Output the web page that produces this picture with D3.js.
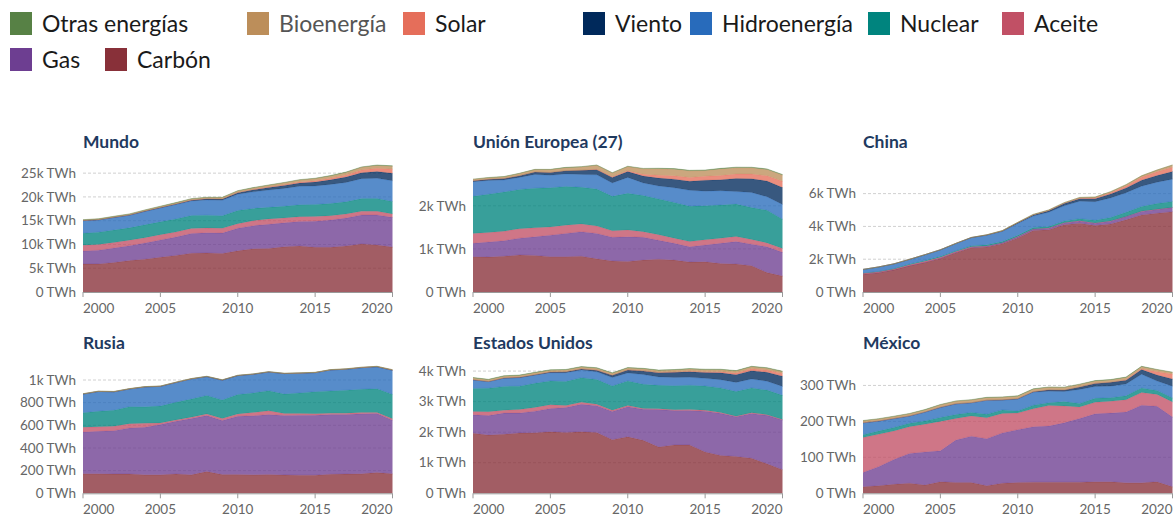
<!DOCTYPE html>
<html><head><meta charset="utf-8">
<script src="https://cdn.jsdelivr.net/npm/d3@7"></script>
<style>
body{margin:0;background:#fff;}
svg{display:block;font-family:Lato,"Open Sans",sans-serif;}
</style></head><body>
<svg id="chart" width="1176" height="518"></svg>
<script>
// ---------- DATA ----------
const years = [2000,2001,2002,2003,2004,2005,2006,2007,2008,2009,2010,2011,2012,2013,2014,2015,2016,2017,2018,2019,2020];
// stack order, bottom -> top
const sourceNames = ["Carbón","Gas","Aceite","Nuclear","Hidroenergía","Viento","Solar","Bioenergía","Otras energías"];
const countryNames = ["Mundo","Unión Europea (27)","China","Rusia","Estados Unidos","México"];

// Mundo (TWh)
const mundoCarbon = [5870,5900,6200,6600,6900,7300,7700,8150,8200,8100,8650,9100,9150,9500,9700,9400,9400,9700,10100,9900,9450];
const mundoGas    = [2750,2900,3050,3150,3400,3650,3850,4150,4250,4300,4750,4850,5100,5050,5150,5500,5750,5850,6100,6300,6250];
const mundoAceite = [1220,1200,1150,1150,1130,1100,1050,1080,1030,1000,970,1050,1120,1020,1000,1000,900,850,800,760,720];
const mundoNuclear= [2510,2590,2630,2590,2700,2710,2760,2700,2680,2640,2760,2580,2430,2460,2500,2520,2560,2580,2640,2720,2620];
const mundoHidro  = [2640,2580,2630,2640,2800,2910,3020,3070,3210,3240,3420,3480,3650,3760,3870,3870,4020,4060,4180,4230,4350];
const mundoViento = [31,38,52,63,85,104,133,171,220,277,342,437,524,635,706,831,957,1135,1265,1420,1590];
const mundoSolar  = [1,1,2,2,3,4,6,8,12,20,32,63,99,138,190,256,329,445,575,704,846];
const mundoBio    = [140,145,160,175,190,210,225,245,265,285,320,340,370,400,440,470,500,530,560,590,620];
const mundoOtras  = [52,53,55,57,60,61,62,64,66,68,70,72,73,75,77,80,82,84,86,88,90];

// Unión Europea (27)
const ueCarbon  = [820,810,830,860,850,820,820,830,770,720,710,740,760,740,695,700,660,650,610,450,370];
const ueGas     = [310,350,360,390,430,500,540,570,590,550,570,530,440,390,355,390,470,520,500,600,550];
const ueAceite  = [230,220,220,220,210,190,190,180,170,150,160,130,130,120,120,120,120,120,110,90,90];
const ueNuclear = [860,890,910,910,920,910,900,850,860,800,850,840,830,830,820,790,770,750,740,760,680];
const ueHidro   = [340,320,280,280,320,290,290,300,330,310,370,290,300,340,370,340,330,290,350,310,340];
const ueViento  = [20,25,33,40,55,65,75,95,120,130,135,160,185,200,210,255,255,305,320,365,395];
const ueSolar   = [0,0,0,1,1,1,2,4,7,14,22,44,66,77,88,94,97,105,108,124,144];
const ueBio     = [35,38,42,50,55,65,70,75,95,90,95,125,150,155,155,130,155,145,145,145,145];
const ueOtras   = [5,5,5,5,6,6,6,6,6,6,7,10,12,12,12,13,13,13,13,13,13];

// China
const chCarbon  = [1080,1180,1350,1600,1800,2050,2400,2700,2750,2950,3300,3750,3800,4100,4200,4050,4150,4400,4700,4800,4900];
const chGas     = [6,7,8,10,15,20,25,35,40,50,70,85,90,115,130,145,170,200,215,235,250];
const chAceite  = [50,45,45,50,55,50,40,30,20,10,10,8,6,6,10,10,10,10,10,10,10];
const chNuclear = [17,17,25,43,50,53,55,62,68,70,74,86,97,112,132,171,213,248,295,348,366];
const chHidro   = [222,277,288,284,354,398,436,486,585,616,722,699,872,920,1064,1130,1193,1194,1232,1302,1355];
const chViento  = [1,1,1,1,1,2,4,6,15,28,45,70,96,141,156,186,241,295,366,406,467];
const chSolar   = [0,0,0,0,0,0,0,0,0,0,1,3,6,15,29,45,75,118,177,225,261];
const chBio     = [3,3,3,3,3,4,8,11,14,21,25,32,35,40,46,53,65,81,91,112,136];
const chOtras   = [0,0,0,0,0,0,0,0,0,0,0,0,0,0,0,0,0,0,0,0,0];

// Rusia
const ruCarbon  = [172,172,170,170,163,163,170,163,192,165,165,163,165,162,160,160,168,170,172,183,172];
const ruGas     = [369,375,383,407,420,444,466,497,494,477,515,522,530,525,530,529,527,525,530,521,473];
const ruAceite  = [42,40,39,38,35,14,12,12,15,18,21,28,33,17,15,13,12,12,11,10,12];
const ruNuclear = [128,137,141,150,145,149,156,160,163,164,171,173,178,172,181,195,197,203,205,209,216];
const ruHidro   = [165,175,163,156,176,174,174,178,166,175,167,165,165,181,174,168,185,185,191,194,212];
const ruViento  = [0,0,0,0,0,0,0,0,0,0,0,0,0,0,0,0,0,0,0,0,1];
const ruSolar   = [0,0,0,0,0,0,0,0,0,0,0,0,0,0,0,0,0,1,1,1,2];
const ruBio     = [3,3,3,3,3,3,3,3,3,3,3,3,3,3,3,3,3,3,3,3,3];
const ruOtras   = [0,0,0,0,0,0,0,0,0,0,0,0,0,0,0,0,0,0,0,0,0];

// Estados Unidos
const usCarbon  = [1966,1904,1933,1974,1978,2013,1991,2016,1986,1756,1847,1733,1514,1581,1582,1352,1239,1206,1146,965,774];
const usGas     = [601,639,691,650,711,761,817,897,883,921,988,1014,1226,1125,1127,1335,1379,1297,1469,1586,1624];
const usAceite  = [111,125,95,119,121,122,64,66,46,39,37,30,23,27,30,28,24,21,25,18,17];
const usNuclear = [754,769,780,764,789,782,787,806,806,799,807,790,769,789,797,797,806,805,807,809,790];
const usHidro   = [276,217,264,276,268,270,289,248,254,273,260,319,276,269,259,249,268,300,292,287,291];
const usViento  = [6,7,10,11,14,18,27,35,55,74,95,120,141,168,182,191,227,254,273,296,338];
const usSolar   = [0.5,0.5,0.6,0.5,0.6,0.6,0.5,0.6,0.9,0.9,1.2,1.8,4.3,9,18,25,36,53,64,72,89];
const usBio     = [61,55,60,61,62,62,63,63,64,63,66,65,65,66,70,68,65,64,64,61,58];
const usOtras   = [14,14,14,14,14,15,15,15,15,15,15,16,16,16,16,16,16,16,16,16,17];

// México
const mxCarbon  = [18,21,25,28,23,32,30,30,21,28,30,31,31,31,31,32,32,29,29,32,18];
const mxGas     = [40,53,69,83,92,86,118,129,131,140,147,154,156,165,177,189,191,197,216,210,194];
const mxAceite  = [97,90,79,74,77,82,60,56,58,54,46,50,57,47,32,32,33,34,35,33,42];
const mxNuclear = [8,9,10,10,9,11,11,10,10,10,6,10,8,12,10,11,10,11,13,11,11];
const mxHidro   = [33,28,25,20,25,28,30,27,39,27,33,36,32,28,39,33,32,33,38,26,33];
const mxViento  = [0,0,0,0,0,0,0,0,0,1,1.2,1.6,3.7,4.2,6.4,8.7,10.5,10.6,13,17,20];
const mxSolar   = [0,0,0,0,0,0,0,0,0,0,0,0,0,0,0.2,0.2,0.4,1.2,2.2,9,13];
const mxBio     = [5.5,5.5,5.5,6,6,7,7,7.5,7,7,7,7,7,7,7,6.5,6.5,6.5,6,5.5,5];
const mxOtras   = [1,1,1,1,1,1,1,1,1,1,1,1,1,1,1,1,1,1,1,1,1];

const yTickValues = [
  [0,5000,10000,15000,20000,25000],
  [0,1000,2000],
  [0,2000,4000,6000],
  [0,200,400,600,800,1000],
  [0,1000,2000,3000,4000],
  [0,100,200,300]
];
const xTickValues = [2000,2005,2010,2015,2020];

// ---------- STYLE / LAYOUT ----------
const palette = ["#883039","#6D3E91","#C15065","#00847E","#286BBB","#00295B","#E56E5A","#BC8E5A","#578145"];
const countrySeries = [
  [mundoCarbon,mundoGas,mundoAceite,mundoNuclear,mundoHidro,mundoViento,mundoSolar,mundoBio,mundoOtras],
  [ueCarbon,ueGas,ueAceite,ueNuclear,ueHidro,ueViento,ueSolar,ueBio,ueOtras],
  [chCarbon,chGas,chAceite,chNuclear,chHidro,chViento,chSolar,chBio,chOtras],
  [ruCarbon,ruGas,ruAceite,ruNuclear,ruHidro,ruViento,ruSolar,ruBio,ruOtras],
  [usCarbon,usGas,usAceite,usNuclear,usHidro,usViento,usSolar,usBio,usOtras],
  [mxCarbon,mxGas,mxAceite,mxNuclear,mxHidro,mxViento,mxSolar,mxBio,mxOtras]
];

const svg = d3.select("#chart");

// Legend (top-first order)
const legendLayout = [
  {i:8,x:10,row:0},{i:7,x:247,row:0},{i:6,x:403,row:0},{i:5,x:583,row:0},
  {i:4,x:690,row:0},{i:3,x:868,row:0},{i:2,x:1002,row:0},
  {i:1,x:10,row:1},{i:0,x:105,row:1}
];
const lg = svg.append("g");
legendLayout.forEach(d=>{
  const yTop = d.row===0 ? 12 : 48;
  lg.append("rect").attr("x",d.x).attr("y",yTop).attr("width",22).attr("height",23)
    .attr("fill",palette[d.i]);
  lg.append("text").attr("x",d.x+32).attr("y",yTop+20)
    .attr("font-size",23).attr("fill", d.i===7 ? "#555" : "#1a1a1a")
    .text(sourceNames[d.i]);
});

const fmt = v => v===0 ? "0 TWh" : (v>=1000 ? (v/1000)+"k TWh" : v+" TWh");

countryNames.forEach((name,ci)=>{
  const col = ci%3, row = Math.floor(ci/3);
  const x0 = 83 + col*390, x1 = x0 + 309.5;
  const yB = 292 + row*201.3, yT = yB - 127;
  const series = countrySeries[ci];
  const rows = years.map((yr,j)=>{
    const o = {year:yr};
    series.forEach((s,k)=>o[k]=s[j]);
    return o;
  });
  const keys = d3.range(series.length);
  const stacked = d3.stack().keys(keys)(rows);
  const maxTotal = d3.max(stacked[stacked.length-1], d=>d[1]);
  const x = d3.scaleLinear().domain([years[0],years[years.length-1]]).range([x0,x1]);
  const y = d3.scaleLinear().domain([0,maxTotal]).range([yB,yT]);
  const g = svg.append("g");

  // title
  g.append("text").attr("x",x0).attr("y",yB-144).attr("font-size",17.5).attr("font-weight",700)
    .attr("fill","#1f3a5f").text(name);

  // gridlines
  yTickValues[ci].filter(t=>t>0).forEach(t=>{
    g.append("line").attr("x1",x0).attr("x2",x1).attr("y1",y(t)).attr("y2",y(t))
      .attr("stroke","#d0d0d0").attr("stroke-dasharray","3,2").attr("stroke-width",1);
  });

  // areas
  const area = d3.area().x(d=>x(d.data.year)).y0(d=>y(d[0])).y1(d=>y(d[1]));
  const line = d3.line().x(d=>x(d.data.year)).y(d=>y(d[1]));
  stacked.forEach((layer,k)=>{
    g.append("path").attr("d",area(layer)).attr("fill",palette[k]).attr("fill-opacity",0.78);
    g.append("path").attr("d",line(layer)).attr("fill","none").attr("stroke",palette[k])
      .attr("stroke-opacity",0.6).attr("stroke-width",0.6);
  });

  // y tick labels
  yTickValues[ci].forEach(t=>{
    g.append("text").attr("x",x0-7).attr("y",y(t)).attr("dy","0.35em").attr("text-anchor","end")
      .attr("font-size",13.5).attr("fill","#666").text(fmt(t));
  });

  // x axis
  g.append("line").attr("x1",x0).attr("x2",x1).attr("y1",yB+0.5).attr("y2",yB+0.5).attr("stroke","#999");
  xTickValues.forEach((t,k)=>{
    g.append("line").attr("x1",x(t)).attr("x2",x(t)).attr("y1",yB).attr("y2",yB+5).attr("stroke","#999");
    g.append("text").attr("x",x(t)).attr("y",yB+20.7)
      .attr("text-anchor", k===0 ? "start" : (k===xTickValues.length-1 ? "end" : "middle"))
      .attr("font-size",13.5).attr("fill","#666").text(t);
  });
});
</script>
</body></html>
